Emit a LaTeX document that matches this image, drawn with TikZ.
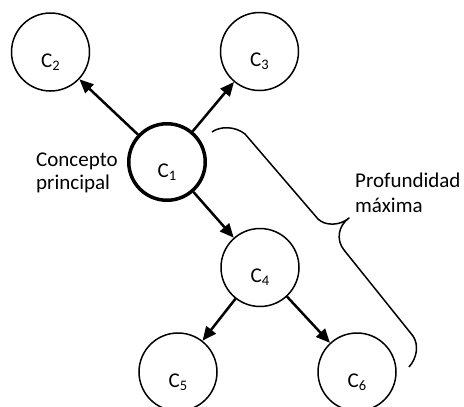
\documentclass[tikz,border=0pt]{standalone}
\usepackage{fontspec}
\setmainfont{Carlito}
\usetikzlibrary{arrows.meta}
\newcommand{\mysub}[1]{\raisebox{-3pt}{\fontsize{14.5}{14.5}\selectfont #1}}
\begin{document}
\begin{tikzpicture}[x=1pt,y=-1pt,
  conc/.style={circle,draw,line width=1.5pt,minimum size=78pt,inner sep=0pt},
  mainconc/.style={conc,line width=3.5pt,minimum size=76.5pt},
  lab/.style={font=\fontsize{21}{24}\selectfont,anchor=base,inner sep=0pt},
  txt/.style={font=\fontsize{21}{24}\selectfont,anchor=base west,inner sep=0pt},
  arr/.style={line width=2.5pt,-{Triangle[length=14pt,width=12pt]}},
  bracestyle/.style={line width=1.5pt,line join=round}]
\useasboundingbox (0,0) rectangle (464,407);
% circles
\node[mainconc] (c1) at (167,162) {};
\node[conc] (c2) at (50.5,52) {};
\node[conc] (c3) at (259.5,51.5) {};
\node[conc] (c4) at (260,267.5) {};
\node[conc] (c5) at (178,372) {};
\node[conc] (c6) at (357,372) {};
% labels
\node[lab] (l1) at (167,177) {C\mysub{1}};
\node[lab] (l2) at (50.5,67) {C\mysub{2}};
\node[lab] (l3) at (259.5,66.5) {C\mysub{3}};
\node[lab] (l4) at (260,282.5) {C\mysub{4}};
\node[lab] (l5) at (178,387) {C\mysub{5}};
\node[lab] (l6) at (357,387) {C\mysub{6}};
% arrows
\draw[arr] (c1) -- (c2);
\draw[arr] (c1) -- (c3);
\draw[arr] (c1) -- (c4);
\draw[arr] (c4) -- (c5);
\draw[arr] (c4) -- (c6);
% texts
\node[txt] (t1) at (36,166) {Concepto};
\node[txt] (t2) at (36,189.5) {principal};
\node[txt] (t3) at (355,187) {Profundidad};
\node[txt] (t4) at (355,212) {máxima};
% brace
\draw[bracestyle] (212,132) .. controls (220,126) and (235,126) .. (245,134)
  -- (318,219) .. controls (325,226) and (340,226) .. (349,218)
  .. controls (338,226) and (336,240) .. (344,250)
  -- (413,336) .. controls (419,345) and (417,358) .. (409,367);
\end{tikzpicture}
\end{document}
